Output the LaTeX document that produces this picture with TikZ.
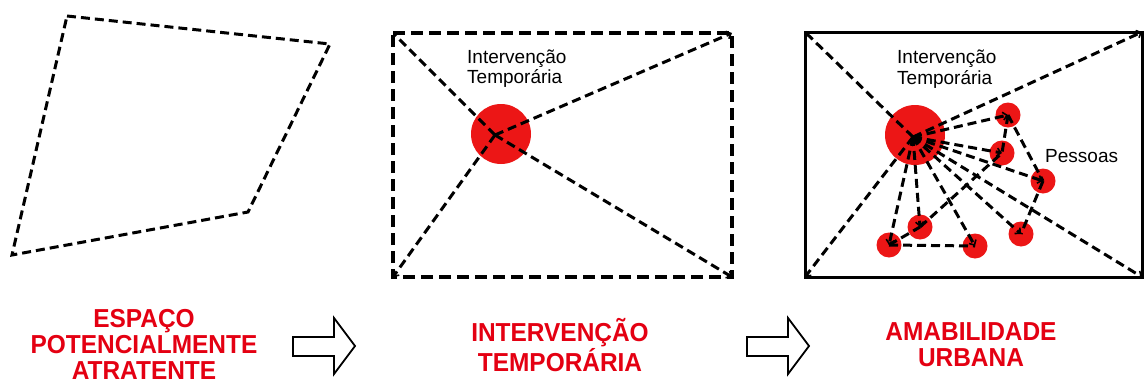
\documentclass[tikz,border=0pt]{standalone}
\usepackage{fontspec}
\setmainfont{Liberation Sans}
\newfontfamily\lblfont[FakeStretch=0.94]{Liberation Sans}
\usetikzlibrary{arrows.meta}
\definecolor{dotred}{RGB}{236,22,22}
\definecolor{txtred}{RGB}{228,0,18}
\begin{document}
\begin{tikzpicture}[x=1pt,y=-1pt,
  dline/.style={line width=3pt,dash pattern=on 9pt off 5pt},
  arr/.style={dline,-{Straight Barb[length=4pt,width=8pt,line width=1.6pt]}},
  bigdot/.style={circle,fill=dotred,minimum size=60pt,inner sep=0pt},
  person/.style={circle,fill=dotred,minimum size=25pt,inner sep=0pt},
  smalltxt/.style={font=\fontsize{19}{20}\selectfont,inner sep=0pt,anchor=base west},
  lbl/.style={font=\lblfont\bfseries\fontsize{26}{26}\selectfont,text=txtred,align=center,inner sep=0pt},
  blockarrow/.style={draw=black,line width=1.8pt,fill=white,line join=miter}]
\useasboundingbox (0,0) rectangle (1144,383);

% ---------- panel 1 ----------
\draw[dline,line join=miter] (67,16) -- (330,44) -- (248,212) -- (12,255) -- cycle;

% ---------- panel 2 ----------
\node[bigdot] (c2) at (501,134) {};
\coordinate (h2) at (495,135);
\coordinate (a2) at (393,33);
\coordinate (b2) at (732,33);
\coordinate (d2) at (393,277);
\coordinate (e2) at (732,277);
\draw[line width=4.5pt,dash pattern=on 12pt off 6pt] (a2) -- (b2) -- (e2) -- (d2) -- cycle;
\foreach \k in {a2,b2,d2,e2} \draw[arr] (h2) -- (\k);
\node[smalltxt] (t2a) at (467,63) {Intervenção};
\node[smalltxt] (t2b) at (467,83) {Temporária};

% ---------- panel 3 ----------
\coordinate (a3) at (805,32);
\coordinate (b3) at (1142,32);
\coordinate (d3) at (805,277);
\coordinate (e3) at (1142,277);
\draw[line width=3pt] (a3) -- (b3) -- (e3) -- (d3) -- cycle;
\node[bigdot] (c3) at (915,135) {};
\coordinate (h3) at (913,137);
\node[person] (p1) at (1008,115) {};
\node[person] (p2) at (1002,153) {};
\node[person] (p3) at (1043,181) {};
\node[person] (p4) at (1021,234) {};
\node[person] (p5) at (975,246) {};
\node[person] (p6) at (920,227) {};
\node[person] (p7) at (889,245) {};
\foreach \k in {a3,b3,d3,e3} \draw[arr] (h3) -- (\k);
\foreach \k in {p1,p2,p3,p4,p5,p6,p7} \draw[arr] (h3) -- (\k.center);
\draw[dline] (p1.center) -- (p2.center);
\draw[dline] (p1.center) -- (p3.center);
\draw[dline] (p3.center) -- (p4.center);
\draw[dline] (p7.center) -- (p5.center);
\draw[dline] (p7.center) -- (p6.center);
\draw[dline] (p6.center) -- (p2.center);
\node[smalltxt] (t3a) at (897,63) {Intervenção};
\node[smalltxt] (t3b) at (897,84) {Temporária};
\node[smalltxt] (t3c) at (1045,162) {Pessoas};

% ---------- bottom labels ----------
\node[lbl] (l1) at (144,344) {ESPAÇO\\POTENCIALMENTE\\ATRATENTE};
\node[lbl] (l2) at (560,345) {INTERVENÇÃO\\TEMPORÁRIA};
\node[lbl] (l3) at (971,345) {AMABILIDADE\\URBANA};

\draw[blockarrow] (293,337) -- (334,337) -- (334,318) -- (355,346) -- (334,374) -- (334,356) -- (293,356) -- cycle;
\draw[blockarrow] (747,337) -- (788,337) -- (788,318) -- (809,346) -- (788,374) -- (788,356) -- (747,356) -- cycle;
\end{tikzpicture}
\end{document}
